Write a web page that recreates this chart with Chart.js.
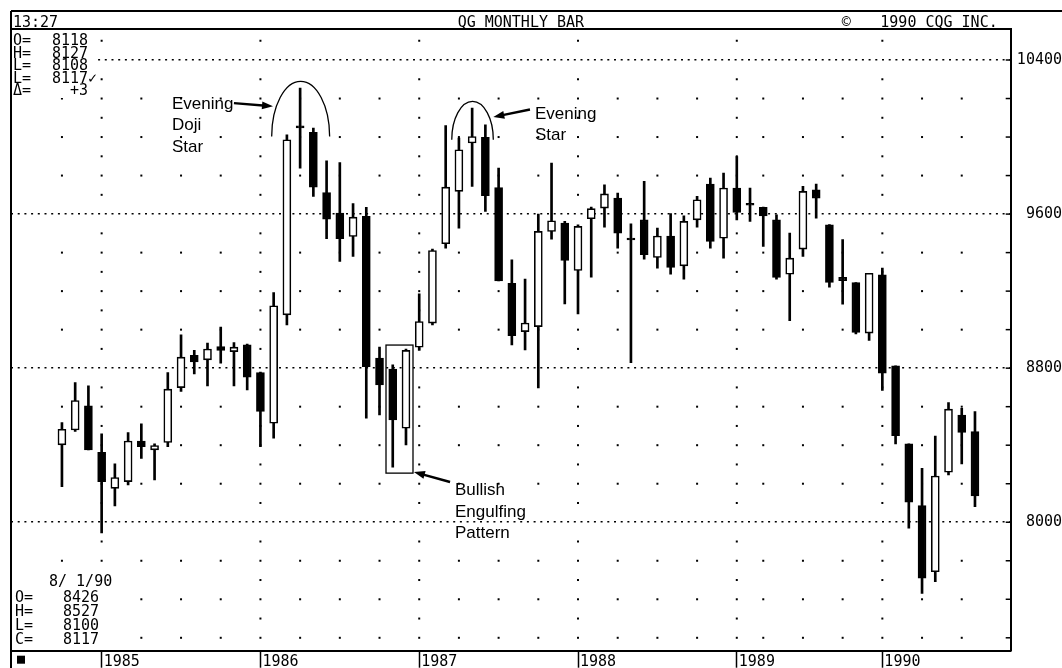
<!DOCTYPE html>
<html>
<head>
<meta charset="utf-8">
<title>QG Monthly Bar</title>
<script src="https://cdn.jsdelivr.net/npm/chart.js@4.4.1/dist/chart.umd.min.js"></script>
<style>
  html, body { margin: 0; padding: 0; background: #fff; }
  #wrap { width: 1062px; height: 668px; }
</style>
</head>
<body>
<div id="wrap"><canvas id="qg" width="1062" height="668"></canvas></div>
<script>
// ==========================================
// 1. DATA - monthly bars 10/84 .. 8/90 (CQG chart has no bar for 3/89)
// ==========================================
const months = [
  '10/84', '11/84', '12/84',
  '1/85', '2/85', '3/85', '4/85', '5/85', '6/85', '7/85', '8/85', '9/85', '10/85', '11/85', '12/85',
  '1/86', '2/86', '3/86', '4/86', '5/86', '6/86', '7/86', '8/86', '9/86', '10/86', '11/86', '12/86',
  '1/87', '2/87', '3/87', '4/87', '5/87', '6/87', '7/87', '8/87', '9/87', '10/87', '11/87', '12/87',
  '1/88', '2/88', '3/88', '4/88', '5/88', '6/88', '7/88', '8/88', '9/88', '10/88', '11/88', '12/88',
  '1/89', '2/89', '4/89', '5/89', '6/89', '7/89', '8/89', '9/89', '10/89', '11/89', '12/89',
  '1/90', '2/90', '3/90', '4/90', '5/90', '6/90', '7/90', '8/90'
];

const opens = [
  8402, 8479, 8604, 8363, 8176, 8211, 8422, 8376, 8414, 8699,
  8866, 8843, 8912, 8886, 8921, 8777, 8514, 9077, 10058, 10024,
  9712, 9605, 9484, 9588, 8852, 8795, 8488, 8909, 9034, 9446,
  9718, 9969, 9998, 9738, 9241, 8990, 9016, 9510, 9553, 9307,
  9576, 9631, 9683, 9476, 9570, 9375, 9486, 9331, 9570, 9756,
  9475, 9735, 9656, 9635, 9570, 9288, 9418, 9726, 9544, 9271,
  9245, 8982, 9285, 8812, 8407, 8086, 7743, 8260, 8557, 8471
];
const highs = [
  8518, 8725, 8708, 8459, 8303, 8466, 8511, 8407, 8777, 8973,
  8892, 8930, 9013, 8933, 8925, 8780, 9193, 10012, 10254, 10047,
  9877, 9868, 9654, 9635, 8909, 8817, 8899, 9186, 9418, 10059,
  9995, 10151, 10064, 9839, 9363, 9262, 9600, 9865, 9562, 9544,
  9636, 9752, 9709, 9550, 9770, 9527, 9602, 9591, 9692, 9787,
  9813, 9899, 9735, 9637, 9596, 9501, 9744, 9756, 9545, 9467,
  9245, 9293, 9319, 8812, 8407, 8280, 8448, 8621, 8592, 8575
];
const lows = [
  8185, 8471, 8375, 7945, 8085, 8194, 8332, 8220, 8393, 8679,
  8770, 8708, 8826, 8708, 8687, 8393, 8436, 9025, 9839, 9692,
  9472, 9354, 9380, 8540, 8557, 8286, 8402, 8892, 9025, 9423,
  9527, 9744, 9614, 9253, 8921, 8895, 8698, 9470, 9134, 9082,
  9273, 9532, 9423, 8829, 9366, 9319, 9288, 9262, 9532, 9423,
  9371, 9570, 9562, 9432, 9262, 9046, 9380, 9579, 9221, 9132,
  8978, 8944, 8684, 8407, 7969, 7631, 7692, 8246, 8303, 8081
];
const closes = [
  8483, 8632, 8376, 8211, 8232, 8422, 8393, 8398, 8691, 8857,
  8833, 8899, 8892, 8909, 8753, 8575, 9124, 9986, 10048, 9740,
  9574, 9472, 9584, 8808, 8713, 8531, 8892, 9042, 9411, 9740,
  9934, 10003, 9695, 9253, 8969, 9034, 9510, 9565, 9359, 9536,
  9628, 9705, 9501, 9466, 9389, 9486, 9323, 9562, 9674, 9458,
  9735, 9609, 9646, 9591, 9271, 9371, 9718, 9683, 9245, 9254,
  8985, 9293, 8774, 8450, 8104, 7709, 8240, 8587, 8466, 8137
];

const yearLabels = ['1985', '1986', '1987', '1988', '1989', '1990'];
const priceLabels = [8000, 8800, 9600, 10400];

// info boxes (CQG header block)
const lastTick = [['O=', '8118'], ['H=', '8127'], ['L=', '8108'], ['L=', '8117'], ['\u0394=', '+3']];
const lastBar = { date: '8/ 1/90', rows: [['O=', '8426'], ['H=', '8527'], ['L=', '8100'], ['C=', '8117']] };

// annotations, placed in bar index / price units
const noteTexts = [
  { bar: 8.31, value: 10147, lines: ['Evening', 'Doji', 'Star'] },
  { bar: 35.75, value: 10095, lines: ['Evening', 'Star'] },
  { bar: 29.7, value: 8141, lines: ['Bullish', 'Engulfing', 'Pattern'] }
];
const noteArcs = [
  { bar: 18.04, base: 10003, top: 10289, half: 2.19 },
  { bar: 31.03, base: 9986, top: 10185, half: 1.57 }
];
const noteBox = { from: 24.49, to: 26.53, top: 8920, bottom: 8255 };
const noteArrows = [
  { from: [13.0, 10176], to: [15.95, 10160] },
  { from: [35.37, 10143], to: [32.6, 10104] },
  { from: [29.33, 8209], to: [26.6, 8261] }
];

// year ticks sit on the January bars, dot columns on quarter months
const yearBars = months.map((m, i) => m.startsWith('1/') ? i : -1).filter(i => i >= 0);
const priceTicks = [];
for (let v = 7400; v <= 10400; v += 200) priceTicks.push(v);

const MONO = "'DejaVu Sans Mono', monospace";
const SANS = "'Liberation Sans', Arial, sans-serif";

// ==========================================
// 2. FRAME, DOT GRID, TEXT BLOCKS, NOTES
// ==========================================
function arrow(ctx, x1, y1, x2, y2) {
  const a = Math.atan2(y2 - y1, x2 - x1);
  const c = Math.cos(a), s = Math.sin(a);
  ctx.beginPath();
  ctx.moveTo(x1, y1);
  ctx.lineTo(x2 - 7 * c, y2 - 7 * s);
  ctx.stroke();
  ctx.beginPath();
  ctx.moveTo(x2, y2);
  ctx.lineTo(x2 - 11 * c + 4 * s, y2 - 11 * s - 4 * c);
  ctx.lineTo(x2 - 11 * c - 4 * s, y2 - 11 * s + 4 * c);
  ctx.closePath();
  ctx.fill();
}

const cqgFrame = {
  id: 'cqgFrame',
  beforeDatasetsDraw(chart) {
    const { ctx, chartArea: a, scales: { x, y } } = chart;
    ctx.save();
    ctx.fillStyle = '#000';
    months.forEach((m, i) => {
      const mo = +m.split('/')[0];
      if (mo % 3 !== 1) return;
      const step = mo === 1 ? 100 : 200;
      const px = x.getPixelForValue(i);
      for (let v = 7400; v <= 10500; v += step) {
        if (v % 800 === 0) continue;
        ctx.fillRect(px - 1, y.getPixelForValue(v) - 1, 2, 2);
      }
    });
    // small inside ticks on the price axis
    ctx.strokeStyle = '#000';
    ctx.lineWidth = 1.5;
    priceTicks.forEach(v => {
      const py = y.getPixelForValue(v);
      ctx.beginPath();
      ctx.moveTo(a.right - 5, py);
      ctx.lineTo(a.right, py);
      ctx.stroke();
    });
    // the two quote blocks sit on a blank patch
    ctx.fillStyle = '#fff';
    ctx.fillRect(a.left + 1, a.top + 1, 85, 68);
    ctx.fillRect(a.left + 1, 570, 109, a.bottom - 571);
    ctx.restore();
  },
  afterDraw(chart) {
    const { ctx, chartArea: a, scales: { x, y } } = chart;
    ctx.save();
    ctx.strokeStyle = '#000';
    ctx.fillStyle = '#000';
    ctx.lineWidth = 2;

    // outer frame + header strip
    ctx.beginPath();
    ctx.moveTo(a.left, 11); ctx.lineTo(chart.width, 11);
    ctx.moveTo(a.left, 11); ctx.lineTo(a.left, chart.height);
    ctx.moveTo(a.left, a.top); ctx.lineTo(a.right, a.top);
    ctx.stroke();

    ctx.font = '15px ' + MONO;
    ctx.textBaseline = 'alphabetic';
    ctx.textAlign = 'left';
    ctx.fillText('13:27', a.left + 2, a.top - 2);
    ctx.textAlign = 'center';
    ctx.fillText('QG MONTHLY BAR', (a.left + a.right) / 2 + 10, a.top - 2);
    ctx.textAlign = 'right';
    ctx.fillText('1990 CQG INC.', a.right - 13, a.top - 2);
    ctx.fillText('\u00A9', a.right - 160, a.top - 2);

    // last tick block, top left
    lastTick.forEach((r, k) => {
      const by = 45 + k * 12.5;
      ctx.textAlign = 'left';
      ctx.fillText(r[0], a.left + 2, by);
      ctx.textAlign = 'right';
      ctx.fillText(r[1], a.left + 77, by);
      if (k === 3) { ctx.textAlign = 'left'; ctx.fillText('\u2713', a.left + 77, by); }
    });

    // last bar block, bottom left
    ctx.textAlign = 'left';
    ctx.fillText(lastBar.date, a.left + 38, 586);
    lastBar.rows.forEach((r, k) => {
      const by = 602 + k * 14;
      ctx.textAlign = 'left';
      ctx.fillText(r[0], a.left + 4, by);
      ctx.textAlign = 'right';
      ctx.fillText(r[1], a.left + 88, by);
    });
    ctx.fillRect(a.left + 6, a.bottom + 5, 8, 8);

    // pattern notes
    ctx.lineWidth = 1.3;
    noteArcs.forEach(n => {
      const cx = x.getPixelForValue(n.bar);
      const cy = y.getPixelForValue(n.base);
      const rx = x.getPixelForValue(n.bar + n.half) - cx;
      const ry = cy - y.getPixelForValue(n.top);
      ctx.beginPath();
      ctx.ellipse(cx, cy, rx, ry, 0, Math.PI, 2 * Math.PI);
      ctx.stroke();
    });
    const bx1 = x.getPixelForValue(noteBox.from), bx2 = x.getPixelForValue(noteBox.to);
    const by1 = y.getPixelForValue(noteBox.top), by2 = y.getPixelForValue(noteBox.bottom);
    ctx.strokeRect(bx1, by1, bx2 - bx1, by2 - by1);

    ctx.lineWidth = 2.4;
    noteArrows.forEach(n => {
      arrow(ctx, x.getPixelForValue(n.from[0]), y.getPixelForValue(n.from[1]),
        x.getPixelForValue(n.to[0]), y.getPixelForValue(n.to[1]));
    });

    ctx.font = '17px ' + SANS;
    ctx.textAlign = 'left';
    noteTexts.forEach(n => {
      const tx = x.getPixelForValue(n.bar);
      const ty = y.getPixelForValue(n.value);
      n.lines.forEach((t, k) => ctx.fillText(t, tx, ty + k * 21.5));
    });
    ctx.restore();
  }
};

// ==========================================
// 3. CANDLES (floating bars: range + body)
// ==========================================
const bodies = months.map((m, i) => ({ x: i, y: [opens[i], closes[i]] }));
const ranges = months.map((m, i) => ({ x: i, y: [lows[i], highs[i]] }));
const bodyFill = months.map((m, i) => closes[i] >= opens[i] ? '#fff' : '#000');

new Chart(document.getElementById('qg'), {
  type: 'bar',
  data: {
    datasets: [
      {
        label: 'Open/Close',
        data: bodies,
        backgroundColor: bodyFill,
        borderColor: '#000',
        borderWidth: 1.6,
        borderSkipped: false,
        barThickness: 8,
        grouped: false,
        order: 1
      },
      {
        label: 'High/Low',
        data: ranges,
        backgroundColor: '#000',
        borderWidth: 0,
        barThickness: 2,
        grouped: false,
        order: 2
      }
    ]
  },
  options: {
    responsive: false,
    animation: false,
    devicePixelRatio: 1,
    layout: { padding: { left: 11, top: 29, right: 0, bottom: 0 } },
    plugins: {
      legend: { display: false },
      tooltip: { enabled: false }
    },
    scales: {
      x: {
        type: 'linear',
        min: -3.85,
        max: 71.7,
        offset: false,
        afterBuildTicks: s => { s.ticks = yearBars.map(v => ({ value: v })); },
        afterFit: s => { s.height = 17.3; },
        grid: { offset: false, drawOnChartArea: false, drawTicks: true, tickLength: 17, tickColor: '#000', tickWidth: 1.5 },
        border: { display: true, color: '#000', width: 2 },
        ticks: {
          autoSkip: false,
          maxRotation: 0,
          align: 'start',
          padding: -15,
          labelOffset: 2,
          color: '#000',
          font: { family: MONO, size: 15 },
          callback: v => yearLabels[yearBars.indexOf(v)] || ''
        }
      },
      y: {
        position: 'right',
        min: 7333,
        max: 10561,
        afterBuildTicks: s => { s.ticks = priceTicks.map(v => ({ value: v })); },
        afterFit: s => { s.width = 51.3; },
        grid: {
          color: c => (c.tick && priceLabels.includes(c.tick.value)) ? '#000' : 'rgba(0,0,0,0)',
          lineWidth: 1.6,
          drawTicks: false
        },
        border: { display: true, color: '#000', width: 2, dash: [2, 4.7] },
        ticks: {
          autoSkip: false,
          padding: 3,
          crossAlign: 'far',
          color: '#000',
          font: { family: MONO, size: 15 },
          callback: v => priceLabels.includes(v) ? String(v) : ''
        }
      }
    }
  },
  plugins: [cqgFrame]
});
</script>
</body>
</html>
